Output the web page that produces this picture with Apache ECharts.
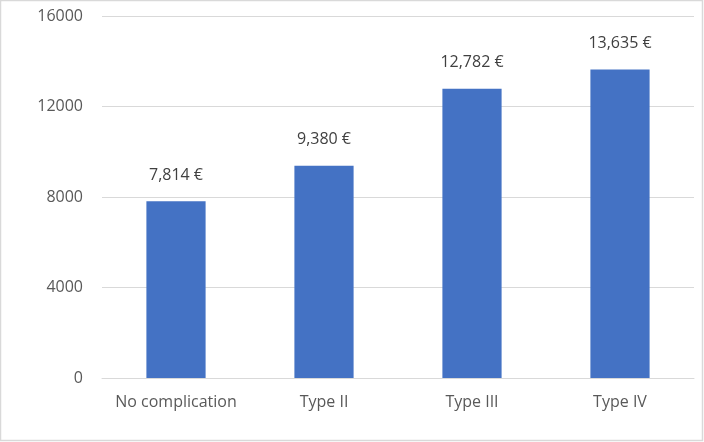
<!DOCTYPE html>
<html><head><meta charset="utf-8">
<script src="https://cdn.jsdelivr.net/npm/echarts@6/dist/echarts.min.js"></script>
<style>html,body{margin:0;padding:0;background:#fff}#c{width:704px;height:442px}</style>
</head><body><div id="c"></div>
<script>
const categories = ["No complication", "Type II", "Type III", "Type IV"];
const costs = [7814, 9380, 12782, 13635];
const yTicks = { min: 0, max: 16000, interval: 4000 };

const chart = echarts.init(document.getElementById('c'), null, { renderer: 'canvas' });
const font = '"Open Sans", "Noto Sans", sans-serif';
chart.setOption({
  animation: false,
  backgroundColor: '#fff',
  graphic: [{
    type: 'rect', shape: { x: 0.5, y: 0.5, width: 702, height: 440 },
    style: { fill: 'none', stroke: '#d9d9d9', lineWidth: 1.5 }, silent: true
  }],
  grid: { left: 102, right: 10, top: 16, bottom: 64 },
  xAxis: {
    type: 'category', data: categories,
    axisLine: { lineStyle: { color: '#d9d9d9', width: 1 } },
    axisTick: { show: false },
    axisLabel: { interval: 0, color: '#595959', fontSize: 16, fontFamily: font, margin: 16 }
  },
  yAxis: {
    type: 'value', min: yTicks.min, max: yTicks.max, interval: yTicks.interval,
    axisLine: { show: false }, axisTick: { show: false },
    splitLine: { lineStyle: { color: '#d9d9d9', width: 1 } },
    axisLabel: { color: '#595959', fontSize: 16, fontFamily: font, margin: 19,
      formatter: v => String(v) }
  },
  series: [{
    type: 'bar', data: costs, barWidth: '40%',
    itemStyle: { color: '#4472C4' },
    label: {
      show: true, position: 'top', distance: 18,
      color: '#404040', fontSize: 16, fontFamily: font,
      formatter: p => p.value.toLocaleString('en-US') + ' €'
    }
  }]
});
</script></body></html>
